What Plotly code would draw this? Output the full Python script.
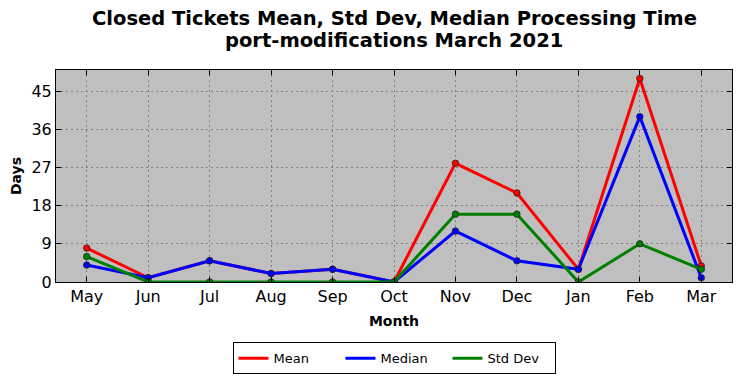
import plotly.graph_objects as go

months = ["May", "Jun", "Jul", "Aug", "Sep", "Oct", "Nov", "Dec", "Jan", "Feb", "Mar"]
mean_days = [8, 1, 5, 2, 3, 0, 28, 21, 3, 48, 3.8]
median_days = [4, 1, 5, 2, 3, 0, 12, 5, 3, 39, 1]
std_days = [6, 0, 0, 0, 0, 0, 16, 16, 0, 9, 3]
y_ticks = [0, 9, 18, 27, 36, 45]
title_lines = ["Closed Tickets Mean, Std Dev, Median Processing Time",
               "port-modifications March 2021"]

FONT = "DejaVu Sans"
series = [("Mean", mean_days, "#ff0000"),
          ("Median", median_days, "#0000ff"),
          ("Std Dev", std_days, "#008000")]
fig = go.Figure()
for name, vals, color in series:
    fig.add_trace(go.Scatter(
        x=list(range(len(months))), y=vals, name=name, mode="lines+markers",
        line=dict(color=color, width=3), showlegend=False,
        marker=dict(size=6.5, color=color, line=dict(color="#222222", width=0.8)),
    ))
for name, vals, color in series:
    fig.add_trace(go.Scatter(
        x=[None], y=[None], name=name, mode="lines",
        line=dict(color=color, width=3), showlegend=True,
    ))

# page body has an 8px margin; figure is sized so that it fills the window
fig.update_layout(
    width=734, height=370,
    margin=dict(l=48, r=10, t=62, b=96, autoexpand=False),
    paper_bgcolor="white", plot_bgcolor="#bfbfbf",
    font=dict(family=FONT, color="black"),
    showlegend=True,
    legend=dict(orientation="h", x=0.5, xanchor="center", y=-0.285, yanchor="top",
                bordercolor="black", borderwidth=1, bgcolor="white",
                font=dict(size=13, family=FONT), itemwidth=30,
                entrywidthmode="pixels", entrywidth=62),
)
for i, (txt, yy) in enumerate(zip(title_lines, [1.2406, 1.1368])):
    fig.add_annotation(text=f"<b>{txt}</b>", xref="paper", yref="paper",
                       x=0.5, y=yy, xanchor="center", yanchor="middle",
                       showarrow=False, font=dict(size=19.5, family=FONT))
fig.update_xaxes(
    range=[-0.5, 10.5], tickmode="array", tickvals=list(range(len(months))), ticktext=months,
    showgrid=True, gridcolor="#808080", griddash="2px,3px", gridwidth=1,
    showline=True, linecolor="black", linewidth=1, mirror="ticks",
    ticks="inside", ticklen=5, tickcolor="black", zeroline=False, automargin=False,
    tickfont=dict(size=16, family=FONT),
    title=dict(text="<b>Month</b>", font=dict(size=14, family=FONT), standoff=10),
)
fig.update_yaxes(
    range=[0, 50], tickmode="array", tickvals=y_ticks,
    showgrid=True, gridcolor="#808080", griddash="2px,3px", gridwidth=1,
    showline=True, linecolor="black", linewidth=1, mirror="ticks",
    ticks="inside", ticklen=5, tickcolor="black", zeroline=False, automargin=False,
    tickfont=dict(size=16, family=FONT),
    title=dict(text="<b>Days</b>", font=dict(size=14, family=FONT), standoff=6),
)
fig.write_html("out.html")
